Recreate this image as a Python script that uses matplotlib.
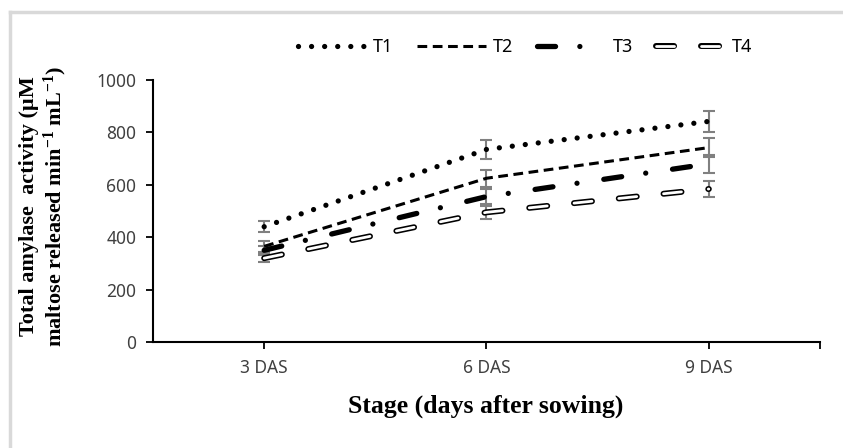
import matplotlib.pyplot as plt
from matplotlib.lines import Line2D

plt.rcParams["lines.scale_dashes"] = False
plt.rcParams["mathtext.fontset"] = "custom"
plt.rcParams["mathtext.rm"] = "Liberation Serif:bold"
plt.rcParams["mathtext.bf"] = "Liberation Serif:bold"
plt.rcParams["mathtext.default"] = "rm"

# data
stages = ["3 DAS", "6 DAS", "9 DAS"]
t1 = [440, 735, 842]
t2 = [365, 625, 742]
t3 = [350, 555, 680]
t4 = [320, 495, 584]
t1_err = [22, 37, 40]
t2_err = [20, 33, 37]
t3_err = [18, 30, 35]
t4_err = [16, 25, 31]
series_names = ["T1", "T2", "T3", "T4"]

W, H = 843, 448
fig = plt.figure(figsize=(W / 100, H / 100), dpi=100)
ax = fig.add_axes([153 / W, 1 - 342 / H, (820 - 153) / W, (342 - 80) / H])

x = list(range(len(stages)))
tick_font = {"family": "Noto Sans", "size": 12.5, "color": "#404040"}

# error bars (gray, behind lines)
for vals, errs in [(t1, t1_err), (t2, t2_err), (t3, t3_err), (t4, t4_err)]:
    ax.errorbar(x, vals, yerr=errs, fmt="none", ecolor="#808080",
                elinewidth=1.5, capsize=4.5, capthick=1.5, zorder=2)

(l1,) = ax.plot(x, t1, color="black", lw=3.8, linestyle=(0, (0.01, 9.4)),
                dash_capstyle="round", zorder=3)
(l2,) = ax.plot(x, t2, color="black", lw=2.2, linestyle=(0, (7, 4)),
                dash_capstyle="butt", zorder=3)
(l3,) = ax.plot(x, t3, color="black", lw=3.8,
                linestyle=(0, (13, 17.5, 0.01, 19.5)),
                dash_capstyle="round", zorder=3)
(l4a,) = ax.plot(x, t4, color="black", lw=4.3, linestyle=(0, (13, 19.4)),
                 dash_capstyle="round", zorder=3)
(l4b,) = ax.plot(x, t4, color="white", lw=2.0, linestyle=(0, (13, 19.4)),
                 dash_capstyle="round", zorder=4)

ax.set_xlim(-0.5, 2.5)
ax.set_ylim(0, 1000)
ax.set_yticks([0, 200, 400, 600, 800, 1000])
ax.set_xticks(x + [2.5])
ax.set_xticklabels(stages + [""], fontdict=tick_font)
ax.set_yticklabels([str(v) for v in [0, 200, 400, 600, 800, 1000]], fontdict=tick_font)
ax.tick_params(axis="both", direction="out", length=5, width=1.3, color="black", pad=7)
for s in ["top", "right"]:
    ax.spines[s].set_visible(False)
for s in ["left", "bottom"]:
    ax.spines[s].set_linewidth(1.5)

fig.text(486 / W, 1 - 406 / H, "Stage (days after sowing)", ha="center", va="center",
         family="Liberation Serif", weight="bold", size=18.5)
fig.text(44 / W, 1 - 206 / H,
         "Total amylase  activity (\u00b5M\nmaltose released min$^{-1}$ mL$^{-1}$)",
         rotation=90, ha="center", va="center", family="Liberation Serif",
         weight="bold", size=16, linespacing=1.15)

handles = [l1, l2, l3, (l4a, l4b)]
fig.legend(handles, series_names, loc="center", bbox_to_anchor=(525 / W, 1 - 47 / H),
           ncol=4, frameon=False, handlelength=3.8, columnspacing=1.3,
           handletextpad=0.4, prop={"family": "Noto Sans", "size": 13})

# partial gray frame of the screenshot
fig.add_artist(Line2D([10 / W, 1], [1 - 12 / H, 1 - 12 / H], color="#d9d9d9", lw=2.5,
                      transform=fig.transFigure, zorder=10))
fig.add_artist(Line2D([10 / W, 10 / W], [0, 1 - 12 / H], color="#d9d9d9", lw=2.5,
                      transform=fig.transFigure, zorder=10))

fig.savefig("out.png", dpi=100)
